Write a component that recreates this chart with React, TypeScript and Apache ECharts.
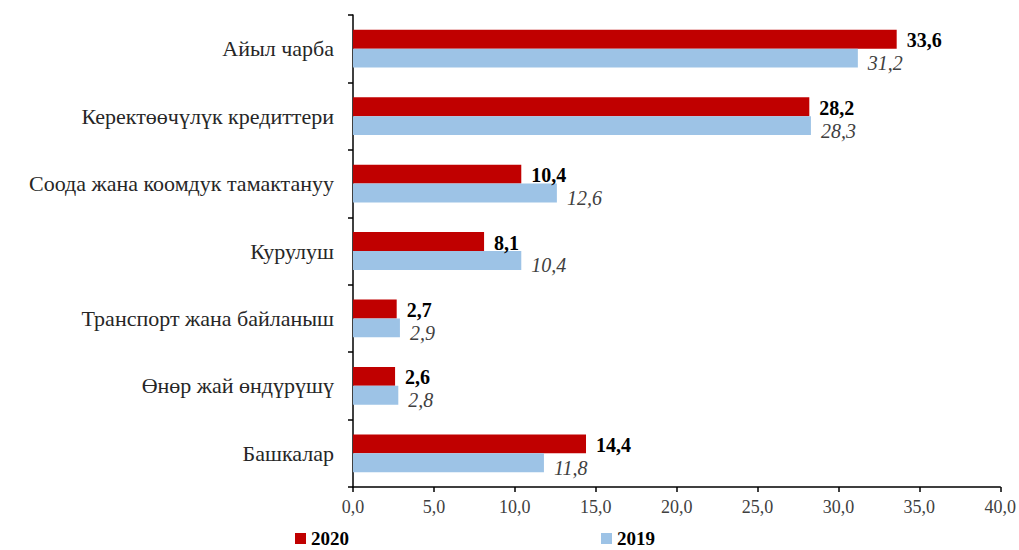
import React, { useEffect, useRef } from "react";
import * as echarts from "echarts";

const categories = [
  "Айыл чарба",
  "Керектөөчүлүк кредиттери",
  "Соода жана коомдук тамактануу",
  "Курулуш",
  "Транспорт жана байланыш",
  "Өнөр жай өндүрүшү",
  "Башкалар",
];
const values2020 = [33.6, 28.2, 10.4, 8.1, 2.7, 2.6, 14.4];
const values2019 = [31.2, 28.3, 12.6, 10.4, 2.9, 2.8, 11.8];
const seriesNames = ["2020", "2019"];

const fmt = (v: number) => v.toFixed(1).replace(".", ",");
const FONT = "'Liberation Serif', 'Times New Roman', serif";

export default function App() {
  const ref = useRef<HTMLDivElement>(null);
  useEffect(() => {
    if (!ref.current) return;
    const chart = echarts.init(ref.current, undefined, { renderer: "svg" });
    chart.setOption({
      animation: false,
      backgroundColor: "#ffffff",
      grid: { left: 353, right: 16, top: 15, bottom: 63, containLabel: false },
      legend: {
        data: seriesNames,
        left: 295,
        top: 529,
        padding: 0,
        itemWidth: 11,
        itemHeight: 11,
        itemGap: 252,
        icon: "rect",
        textStyle: {
          fontFamily: FONT,
          fontSize: 19,
          lineHeight: 19,
          fontWeight: "bold",
          color: "#000",
        },
      },
      xAxis: {
        type: "value",
        min: 0,
        max: 40,
        interval: 5,
        splitLine: { show: false },
        axisLine: { show: true, lineStyle: { color: "#000", width: 1.5 } },
        axisTick: { show: true, length: 5, lineStyle: { color: "#000", width: 1.5 } },
        axisLabel: {
          formatter: (v: number) => fmt(v),
          fontFamily: FONT,
          fontSize: 18,
          color: "#404040",
          margin: 11,
        },
      },
      yAxis: {
        type: "category",
        data: categories,
        inverse: true,
        axisLine: { show: true, lineStyle: { color: "#000", width: 1.5 } },
        axisTick: { show: true, length: 5, lineStyle: { color: "#000", width: 1.5 } },
        axisLabel: {
          fontFamily: FONT,
          fontSize: 22,
          color: "#262626",
          margin: 19,
        },
      },
      series: [
        {
          name: seriesNames[0],
          type: "bar",
          data: values2020,
          itemStyle: { color: "#C00000" },
          barGap: "0%",
          barCategoryGap: "44%",
          label: {
            show: true,
            position: "right",
            distance: 10,
            offset: [0, 1],
            formatter: (p: any) => fmt(p.value),
            fontFamily: FONT,
            fontSize: 20,
            fontWeight: "bold",
            color: "#000",
          },
        },
        {
          name: seriesNames[1],
          type: "bar",
          data: values2019,
          itemStyle: { color: "#9DC3E6" },
          barGap: "0%",
          barCategoryGap: "44%",
          label: {
            show: true,
            position: "right",
            distance: 10,
            offset: [0, 5],
            formatter: (p: any) => fmt(p.value),
            fontFamily: FONT,
            fontSize: 20,
            fontStyle: "italic",
            color: "#404040",
          },
        },
      ],
    });
    return () => chart.dispose();
  }, []);
  return (
    <div
      ref={ref}
      style={{ position: "absolute", left: 0, top: 0, width: 1019, height: 550 }}
    />
  );
}
